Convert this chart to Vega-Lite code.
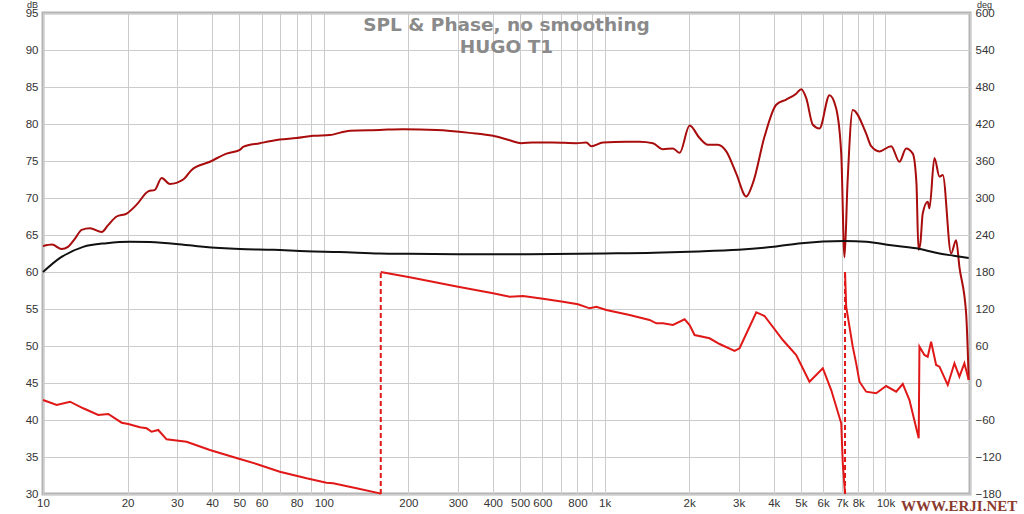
{
  "$schema": "https://vega.github.io/schema/vega-lite/v6.json",
  "width": 927,
  "height": 481,
  "autosize": {"type": "none"},
  "padding": {"left": 43, "top": 13, "right": 54, "bottom": 20},
  "background": "white",
  "title": {
    "text": ["SPL & Phase, no smoothing", "HUGO T1"],
    "anchor": "middle",
    "font": "DejaVu Sans",
    "fontSize": 18.5,
    "fontWeight": "bold",
    "color": "#8a8a8a",
    "lineHeight": 22,
    "offset": -56
  },
  "config": {
    "view": {"stroke": "#b4b4b4", "strokeWidth": 3},
    "axis": {
      "labelFont": "Liberation Sans",
      "labelFontSize": 11.5,
      "labelColor": "#333333",
      "gridColor": "#cccccc",
      "gridWidth": 1,
      "domain": false,
      "ticks": false,
      "titleFont": "Liberation Sans",
      "titleFontSize": 9,
      "titleFontWeight": "normal",
      "titleColor": "#333333"
    }
  },
  "datasets": {
    "spl": [
      {"f": 10.0, "db": 63.5}, {"f": 10.77, "db": 63.7}, {"f": 11.65, "db": 63.1}, {"f": 12.27, "db": 63.4},
      {"f": 13.0, "db": 64.5}, {"f": 13.73, "db": 65.7}, {"f": 14.7, "db": 65.9}, {"f": 16.18, "db": 65.4},
      {"f": 17.03, "db": 66.3}, {"f": 18.29, "db": 67.5}, {"f": 19.86, "db": 67.9}, {"f": 21.55, "db": 69.1},
      {"f": 23.7, "db": 70.9}, {"f": 25.03, "db": 71.1}, {"f": 26.45, "db": 72.7}, {"f": 28.31, "db": 71.9},
      {"f": 31.57, "db": 72.5}, {"f": 33.83, "db": 73.8}, {"f": 39.29, "db": 74.9}, {"f": 45.05, "db": 76.0},
      {"f": 50.23, "db": 76.5}, {"f": 51.6, "db": 76.9}, {"f": 59.2, "db": 77.4}, {"f": 69.7, "db": 77.9},
      {"f": 79.9, "db": 78.1}, {"f": 91.6, "db": 78.4}, {"f": 105.0, "db": 78.5}, {"f": 123.8, "db": 79.1},
      {"f": 158.2, "db": 79.2}, {"f": 191.5, "db": 79.3}, {"f": 251.8, "db": 79.2}, {"f": 330.8, "db": 78.8},
      {"f": 400.4, "db": 78.4}, {"f": 459, "db": 77.8}, {"f": 505, "db": 77.4}, {"f": 554, "db": 77.5},
      {"f": 654.6, "db": 77.5}, {"f": 793, "db": 77.4}, {"f": 860.8, "db": 77.5}, {"f": 896.8, "db": 77.0},
      {"f": 986, "db": 77.5}, {"f": 1194.8, "db": 77.6}, {"f": 1332, "db": 77.6}, {"f": 1485.6, "db": 77.4},
      {"f": 1612.6, "db": 76.6}, {"f": 1750.6, "db": 76.7}, {"f": 1849.3, "db": 76.1}, {"f": 2007, "db": 79.8},
      {"f": 2178, "db": 78.1}, {"f": 2331, "db": 77.2}, {"f": 2530, "db": 77.2}, {"f": 2711, "db": 76.3},
      {"f": 2942, "db": 73.3}, {"f": 3194, "db": 70.2}, {"f": 3372, "db": 72.0}, {"f": 3710, "db": 78.3},
      {"f": 4083, "db": 82.6}, {"f": 4432, "db": 83.3}, {"f": 4811, "db": 84.1}, {"f": 5012, "db": 84.7},
      {"f": 5222, "db": 83.5}, {"f": 5513, "db": 79.9}, {"f": 5823, "db": 79.4}, {"f": 6320, "db": 83.9},
      {"f": 6676, "db": 82.1}, {"f": 6958, "db": 76.0}, {"f": 7148, "db": 62.0}, {"f": 7326, "db": 72.0},
      {"f": 7648, "db": 81.9}, {"f": 8537, "db": 78.7}, {"f": 8895, "db": 77.0}, {"f": 9521, "db": 76.3},
      {"f": 10478, "db": 77.0}, {"f": 11215, "db": 74.9}, {"f": 11851, "db": 76.7}, {"f": 12513, "db": 76.0},
      {"f": 12893, "db": 72.0}, {"f": 13106, "db": 63.0}, {"f": 13323, "db": 64.0}, {"f": 13574, "db": 67.9},
      {"f": 14141, "db": 69.5}, {"f": 14340, "db": 68.6}, {"f": 14941, "db": 75.4}, {"f": 15569, "db": 72.9},
      {"f": 15996, "db": 73.1}, {"f": 17131, "db": 62.5}, {"f": 17848, "db": 64.3}, {"f": 18335, "db": 60.7},
      {"f": 19375, "db": 54.4}, {"f": 19792, "db": 45.4}
    ],
    "ref": [
      {"f": 10.0, "db": 60.0}, {"f": 11.5, "db": 61.9}, {"f": 13.9, "db": 63.4}, {"f": 16.86, "db": 63.9},
      {"f": 20.4, "db": 64.1}, {"f": 24.0, "db": 64.05}, {"f": 29.8, "db": 63.8}, {"f": 37.2, "db": 63.4},
      {"f": 50.2, "db": 63.1}, {"f": 66.1, "db": 63.0}, {"f": 86.8, "db": 62.8}, {"f": 113.8, "db": 62.7},
      {"f": 158, "db": 62.5}, {"f": 200, "db": 62.45}, {"f": 300, "db": 62.4}, {"f": 500, "db": 62.4},
      {"f": 1000, "db": 62.5}, {"f": 1500, "db": 62.6}, {"f": 2000, "db": 62.75}, {"f": 3000, "db": 63.0},
      {"f": 4000, "db": 63.4}, {"f": 5012, "db": 63.9}, {"f": 7148, "db": 64.2}, {"f": 8537, "db": 64.1},
      {"f": 10478, "db": 63.6}, {"f": 12893, "db": 63.2}, {"f": 15569, "db": 62.5}, {"f": 17500, "db": 62.2},
      {"f": 19792, "db": 61.9}
    ],
    "phase": [
      {"seg": 1, "f": 10.0, "deg": -27.6}, {"seg": 1, "f": 11.19, "deg": -35.7}, {"seg": 1, "f": 12.48, "deg": -30.3},
      {"seg": 1, "f": 13.91, "deg": -41.0}, {"seg": 1, "f": 15.73, "deg": -51.9}, {"seg": 1, "f": 17.08, "deg": -50.3},
      {"seg": 1, "f": 19.06, "deg": -64.4}, {"seg": 1, "f": 20.12, "deg": -66.5}, {"seg": 1, "f": 22.14, "deg": -71.8},
      {"seg": 1, "f": 23.39, "deg": -73.5}, {"seg": 1, "f": 24.37, "deg": -79.0}, {"seg": 1, "f": 25.72, "deg": -76.2},
      {"seg": 1, "f": 27.55, "deg": -91.3}, {"seg": 1, "f": 32.46, "deg": -95.2}, {"seg": 1, "f": 39.29, "deg": -108.6},
      {"seg": 1, "f": 50.23, "deg": -123.2}, {"seg": 1, "f": 57.6, "deg": -131.3}, {"seg": 1, "f": 69.7, "deg": -143.8},
      {"seg": 1, "f": 86.8, "deg": -154.5}, {"seg": 1, "f": 102.2, "deg": -161.6}, {"seg": 1, "f": 107.9, "deg": -162.6},
      {"seg": 1, "f": 130.7, "deg": -170.8}, {"seg": 1, "f": 158.2, "deg": -178.9}, {"seg": 1, "f": 159.5, "deg": -180},
      {"seg": 2, "f": 159.5, "deg": 180}, {"seg": 2, "f": 202.3, "deg": 171.4}, {"seg": 2, "f": 300.6, "deg": 156.2},
      {"seg": 2, "f": 400.4, "deg": 145.5}, {"seg": 2, "f": 459, "deg": 140.0}, {"seg": 2, "f": 512, "deg": 141.1},
      {"seg": 2, "f": 603, "deg": 136.7}, {"seg": 2, "f": 710.6, "deg": 131.9}, {"seg": 2, "f": 803.5, "deg": 127.6},
      {"seg": 2, "f": 884.5, "deg": 121.1}, {"seg": 2, "f": 934, "deg": 123.7}, {"seg": 2, "f": 1014, "deg": 118.4},
      {"seg": 2, "f": 1227, "deg": 110.3}, {"seg": 2, "f": 1445.6, "deg": 102.2}, {"seg": 2, "f": 1527.6, "deg": 96.8},
      {"seg": 2, "f": 1612.6, "deg": 96.8}, {"seg": 2, "f": 1750.6, "deg": 94.1}, {"seg": 2, "f": 1926.6, "deg": 103.3},
      {"seg": 2, "f": 2007, "deg": 94.1}, {"seg": 2, "f": 2091, "deg": 77.8}, {"seg": 2, "f": 2364, "deg": 72.5},
      {"seg": 2, "f": 2567, "deg": 63.2}, {"seg": 2, "f": 2901, "deg": 51.9}, {"seg": 2, "f": 3023, "deg": 56.3},
      {"seg": 2, "f": 3467, "deg": 114.7}, {"seg": 2, "f": 3710, "deg": 108.7}, {"seg": 2, "f": 4310, "deg": 69.7},
      {"seg": 2, "f": 4811, "deg": 45.4}, {"seg": 2, "f": 5363, "deg": 2.1}, {"seg": 2, "f": 5983, "deg": 23.9},
      {"seg": 2, "f": 6410, "deg": -11.4}, {"seg": 2, "f": 6958, "deg": -65.4}, {"seg": 2, "f": 7047, "deg": -130.2},
      {"seg": 2, "f": 7178, "deg": -180},
      {"seg": 3, "f": 7178, "deg": 180}, {"seg": 3, "f": 7246, "deg": 123.7}, {"seg": 3, "f": 7647, "deg": 58.9},
      {"seg": 3, "f": 7865, "deg": 31.9}, {"seg": 3, "f": 8081, "deg": 2.1}, {"seg": 3, "f": 8537, "deg": -14.1},
      {"seg": 3, "f": 9266, "deg": -16.7}, {"seg": 3, "f": 10058, "deg": -4.9}, {"seg": 3, "f": 10917, "deg": -14.1},
      {"seg": 3, "f": 11525, "deg": -1.6}, {"seg": 3, "f": 12173, "deg": -27.6}, {"seg": 3, "f": 13135, "deg": -89.7},
      {"seg": 3, "f": 13213, "deg": 58.9}, {"seg": 3, "f": 13764, "deg": 45.4}, {"seg": 3, "f": 14141, "deg": 42.7},
      {"seg": 3, "f": 14540, "deg": 67.0}, {"seg": 3, "f": 15150, "deg": 29.2}, {"seg": 3, "f": 15569, "deg": 26.5},
      {"seg": 3, "f": 16662, "deg": -3.2}, {"seg": 3, "f": 17603, "deg": 31.9}, {"seg": 3, "f": 18335, "deg": 10.2},
      {"seg": 3, "f": 19101, "deg": 31.9}, {"seg": 3, "f": 19375, "deg": 21.1}, {"seg": 3, "f": 19792, "deg": 4.9}
    ],
    "wraps": [
      {"w": "a", "f": 159.5, "deg": -180}, {"w": "a", "f": 159.5, "deg": 180},
      {"w": "b", "f": 7178, "deg": -180}, {"w": "b", "f": 7178, "deg": 180}
    ],
    "marks": [
      {"label": "WWW.ERJI.NET", "f": 18300, "db": 28.4}
    ]
  },
  "encoding": {
    "x": {
      "field": "f",
      "type": "quantitative",
      "scale": {"type": "log", "domain": [10, 20000], "nice": false},
      "axis": {
        "title": null,
        "grid": true,
        "values": [10, 20, 30, 40, 50, 60, 70, 80, 90, 100, 200, 300, 400, 500, 600, 700, 800, 900, 1000, 2000, 3000, 4000, 5000, 6000, 7000, 8000, 9000, 10000, 20000],
        "labelExpr": "indexof([70,90,700,900,9000,20000], datum.value) >= 0 ? '' : (datum.value >= 1000 ? (datum.value / 1000) + 'k' : '' + datum.value)",
        "labelPadding": 3,
        "labelFlush": false,
        "labelOverlap": false
      }
    }
  },
  "layer": [
    {
      "encoding": {
        "y": {
          "field": "db",
          "type": "quantitative",
          "scale": {"domain": [30, 95], "nice": false, "zero": false},
          "axis": {
            "orient": "left",
            "grid": true,
            "values": [30, 35, 40, 45, 50, 55, 60, 65, 70, 75, 80, 85, 90, 95],
            "title": "dB",
            "titleAngle": 0,
            "titleX": -11,
            "titleY": -13,
            "titleAlign": "center",
            "titleBaseline": "top",
            "labelPadding": 5
          }
        }
      },
      "layer": [
        {
          "data": {"name": "spl"},
          "mark": {"type": "line", "color": "#a80c0c", "strokeWidth": 2, "interpolate": "monotone"}
        },
        {
          "data": {"name": "ref"},
          "mark": {"type": "line", "color": "#111111", "strokeWidth": 2, "interpolate": "monotone"}
        },
        {
          "data": {"name": "marks"},
          "mark": {"type": "text", "font": "Liberation Serif", "fontSize": 15, "fontWeight": "bold", "color": "#8b3a2e", "align": "center", "baseline": "middle"},
          "encoding": {"text": {"field": "label"}}
        }
      ]
    },
    {
      "encoding": {
        "y": {
          "field": "deg",
          "type": "quantitative",
          "scale": {"domain": [-180, 600], "nice": false, "zero": false},
          "axis": {
            "orient": "right",
            "grid": false,
            "values": [-180, -120, -60, 0, 60, 120, 180, 240, 300, 360, 420, 480, 540, 600],
            "title": "deg",
            "titleAngle": 0,
            "titleX": 14,
            "titleY": -13,
            "titleAlign": "center",
            "titleBaseline": "top",
            "labelPadding": 5
          }
        }
      },
      "layer": [
        {
          "data": {"name": "phase"},
          "mark": {"type": "line", "color": "#e01818", "strokeWidth": 2},
          "encoding": {"detail": {"field": "seg"}}
        },
        {
          "data": {"name": "wraps"},
          "mark": {"type": "line", "color": "#e01818", "strokeWidth": 2, "strokeDash": [5, 3]},
          "encoding": {"detail": {"field": "w"}}
        }
      ]
    }
  ],
  "resolve": {"scale": {"y": "independent"}}
}
